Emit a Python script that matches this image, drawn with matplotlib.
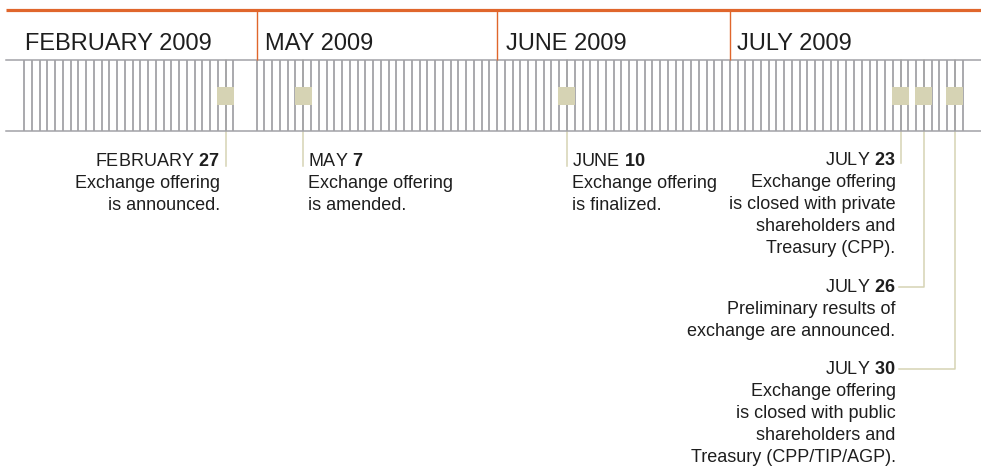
import matplotlib
matplotlib.use("Agg")
import matplotlib.pyplot as plt
from matplotlib import font_manager

# months on the comb; Feb keeps 30 slots so there is a small gap before May
months = ["FEBRUARY 2009", "MAY 2009", "JUNE 2009", "JULY 2009"]
month_days = [28, 31, 30, 31]
month_slots = [30, 31, 30, 31]

# events: (month index, day)
event_month = [0, 1, 2, 3, 3, 3]
event_day = [27, 7, 10, 23, 26, 30]
event_head = ["FEBRUARY", "MAY", "JUNE", "JULY", "JULY", "JULY"]
event_text = [
    ["Exchange offering", "is announced."],
    ["Exchange offering", "is amended."],
    ["Exchange offering", "is finalized."],
    ["Exchange offering", "is closed with private", "shareholders and", "Treasury (CPP)."],
    ["Preliminary results of", "exchange are announced."],
    ["Exchange offering", "is closed with public", "shareholders and", "Treasury (CPP/TIP/AGP)."],
]

ORANGE = "#e0662c"
GRAY = "#a2a2a7"
BEIGE = "#d6d3b4"
INK = "#1e1e1e"

W, H = 981, 468
X0, STEP = 24.0, 7.757  # pixel position of first slot, pixels per slot

plt.rcParams["font.family"] = ["Liberation Sans", "DejaVu Sans"]
plt.rcParams["mathtext.fontset"] = "custom"
plt.rcParams["mathtext.rm"] = "Liberation Sans"
plt.rcParams["mathtext.bf"] = "Liberation Sans:bold"

# the month headers are set in a condensed face if one is around
installed = {f.name for f in font_manager.fontManager.ttflist}
if "Liberation Sans Narrow" in installed:
    header_font, header_size = "Liberation Sans Narrow", 21
elif "DejaVu Sans Condensed" in installed:
    header_font, header_size = "DejaVu Sans Condensed", 18
else:
    header_font, header_size = "Liberation Sans", 17


def px(n):
    # pixel distance -> slot units
    return n / STEP


def main():
    fig = plt.figure(figsize=(W / 100, H / 100), dpi=100)
    ax = fig.add_axes([0, 0, 1, 1])
    ax.set_xlim(-X0 / STEP, (W - X0) / STEP)
    ax.set_ylim(H, 0)
    ax.axis("off")

    starts = [sum(month_slots[:i]) for i in range(len(months))]
    left, right = px(6 - X0), px(W - X0)

    # frame lines
    ax.plot([left, right], [9.5, 9.5], color=ORANGE, lw=2.3, solid_capstyle="butt")
    ax.plot([left, right], [60, 60], color=GRAY, lw=1.1)
    ax.plot([left, right], [131, 131], color=GRAY, lw=1.1)

    header_pad = [1, 8, 9, 7]
    for i, name in enumerate(months):
        days = [starts[i] + d for d in range(month_days[i])]
        ax.vlines(days, 60, 131, color=GRAY, lw=1.3, zorder=2)
        if i > 0:
            ax.vlines(starts[i], 10, 60, color=ORANGE, lw=1.0)
        ax.text(starts[i] + px(header_pad[i]), 50, name, fontsize=header_size,
                family=header_font, color=INK, ha="left", va="baseline")

    ex = [starts[m] + d - 1 for m, d in zip(event_month, event_day)]

    # markers on the comb
    ax.scatter(ex, [96] * len(ex), marker="s", s=150, color=BEIGE,
               edgecolors="none", zorder=4)

    # label layout: side of the text and baseline of first line
    side = ["left", "right", "right", "left", "left", "left"]
    top = [166, 166, 166, 165, 291.5, 373.5]
    july_right = ex[3] - px(5)
    lh = 22

    for k, x in enumerate(ex):
        y0 = top[k]
        if k < 3:
            ax.plot([x, x], [60, y0], color=BEIGE, lw=1.1, zorder=1)
            if side[k] == "left":
                tx, ha = x - px(6), "right"
            else:
                tx, ha = x + px(5), "left"
        else:
            tx, ha = july_right, "right"
            if k == 3:
                ax.plot([x, x], [60, y0 - 2], color=BEIGE, lw=1.1, zorder=1)
            else:
                ym = y0 - 4.5
                ax.plot([july_right + px(3), x, x], [ym, ym, 60],
                        color=BEIGE, lw=1.1, zorder=1)
        head = event_head[k] + r" $\mathbf{" + str(event_day[k]) + "}$"
        lines = [head] + event_text[k]
        for j, line in enumerate(lines):
            ax.text(tx, y0 + j * lh, line, fontsize=13, color=INK,
                    ha=ha, va="baseline")

    fig.savefig("out.png", dpi=100)


if __name__ == "__main__":
    main()
